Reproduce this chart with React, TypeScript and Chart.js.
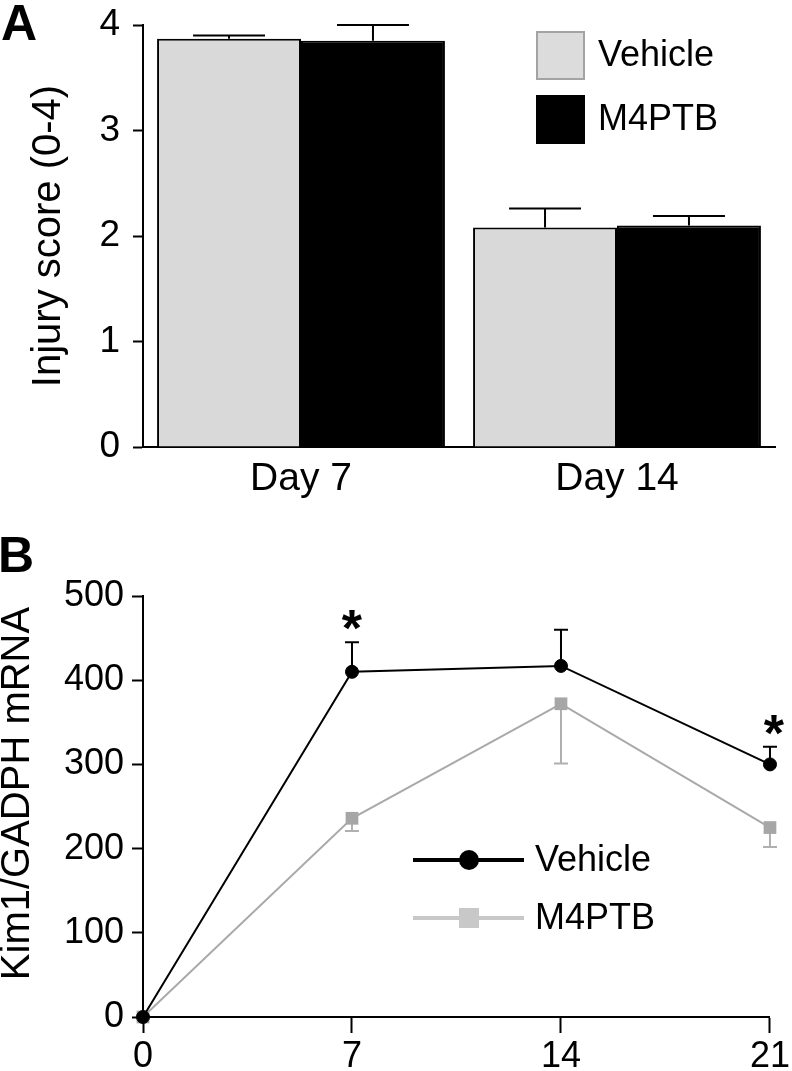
import React, { useEffect, useRef } from 'react';
import { Chart, registerables } from 'chart.js';

Chart.register(...registerables);

const FONT = '"Liberation Sans", Arial, Helvetica, sans-serif';

// ---------- Panel A data ----------
const barCategories = ['Day 7', 'Day 14'];
const barSeriesNames = ['Vehicle', 'M4PTB'];
const vehicleScore = [3.87, 2.08];
const vehicleScoreErr = [0.03, 0.18];
const m4ptbScore = [3.85, 2.1];
const m4ptbScoreErr = [0.15, 0.09];
const scoreTicks = [0, 1, 2, 3, 4];
const scoreTitle = 'Injury score (0-4)';

// ---------- Panel B data ----------
const days = [0, 7, 14, 21];
const lineSeriesNames = ['Vehicle', 'M4PTB'];
const vehicleKim1 = [0, 410, 417, 300];
const vehicleKim1Err = [0, 35, 43, 21];
const m4ptbKim1 = [0, 236, 372, 225];
const m4ptbKim1Err = [0, 15, 71, 23];
const kimTicks = [0, 100, 200, 300, 400, 500];
const dayTicks = [0, 7, 14, 21];
const significantDays = [7, 21];
const kimTitle = 'Kim1/GADPH mRNA';

const errorBarPlugin = {
  id: 'errorBars',
  beforeDatasetsDraw(chart: any) {
    const ctx = chart.ctx;
    const yScale = chart.scales.y;
    chart.data.datasets.forEach((ds: any, di: number) => {
      if (!ds.errors) return;
      const meta = chart.getDatasetMeta(di);
      meta.data.forEach((el: any, i: number) => {
        const e = ds.errors[i];
        if (!e) return;
        const raw = ds.data[i];
        const val = typeof raw === 'number' ? raw : raw.y;
        const end = yScale.getPixelForValue(val + ds.errDir * e);
        const half = ds.capHalf != null ? ds.capHalf : el.width / 4;
        ctx.save();
        ctx.strokeStyle = ds.errColor;
        ctx.lineWidth = 2;
        ctx.beginPath();
        ctx.moveTo(el.x, el.y);
        ctx.lineTo(el.x, end);
        ctx.moveTo(el.x - half, end);
        ctx.lineTo(el.x + half, end);
        ctx.stroke();
        ctx.restore();
      });
    });
  },
};

const yTitlePlugin = {
  id: 'yTitle',
  afterDraw(chart: any, _args: any, opts: any) {
    const { ctx, chartArea } = chart;
    ctx.save();
    ctx.translate(opts.x, (chartArea.top + chartArea.bottom) / 2 + (opts.dy || 0));
    ctx.rotate(-Math.PI / 2);
    ctx.font = `${opts.size}px ${FONT}`;
    ctx.textAlign = 'center';
    ctx.textBaseline = 'middle';
    ctx.fillStyle = '#000';
    ctx.fillText(opts.text, 0, 0);
    ctx.restore();
  },
};

const panelLetterPlugin = {
  id: 'panelLetter',
  afterDraw(chart: any, _args: any, opts: any) {
    const ctx = chart.ctx;
    ctx.save();
    ctx.font = `bold 50px ${FONT}`;
    ctx.fillStyle = '#000';
    ctx.textBaseline = 'alphabetic';
    ctx.textAlign = 'left';
    ctx.fillText(opts.text, opts.x, opts.y);
    ctx.restore();
  },
};

const barLegendPlugin = {
  id: 'barLegend',
  afterDraw(chart: any) {
    const ctx = chart.ctx;
    const x = 537;
    const y0 = 32;
    const box = 47;
    const gap = 64;
    chart.data.datasets.forEach((ds: any, i: number) => {
      const y = y0 + i * gap;
      ctx.save();
      ctx.fillStyle = ds.legendFill;
      ctx.fillRect(x, y, box, box);
      ctx.strokeStyle = ds.legendBorder;
      ctx.lineWidth = 2;
      ctx.strokeRect(x, y, box, box);
      ctx.fillStyle = '#000';
      ctx.font = `36px ${FONT}`;
      ctx.textBaseline = 'middle';
      ctx.textAlign = 'left';
      ctx.fillText(ds.label, x + 61, y + box / 2 + 1);
      ctx.restore();
    });
  },
};

const lineLegendPlugin = {
  id: 'lineLegend',
  afterDraw(chart: any) {
    const ctx = chart.ctx;
    const x1 = 413;
    const x2 = 524;
    const xm = 469;
    const y0 = 330;
    const gap = 58;
    chart.data.datasets.forEach((ds: any, i: number) => {
      const y = y0 + i * gap;
      ctx.save();
      ctx.strokeStyle = ds.legendColor;
      ctx.lineWidth = 4;
      ctx.beginPath();
      ctx.moveTo(x1, y);
      ctx.lineTo(x2, y);
      ctx.stroke();
      ctx.fillStyle = ds.legendColor;
      if (ds.pointStyle === 'circle') {
        ctx.beginPath();
        ctx.arc(xm, y, 10, 0, Math.PI * 2);
        ctx.fill();
      } else {
        ctx.fillRect(xm - 10, y - 10, 20, 20);
      }
      ctx.fillStyle = '#000';
      ctx.font = `36px ${FONT}`;
      ctx.textBaseline = 'middle';
      ctx.textAlign = 'left';
      ctx.fillText(ds.label, 535, y + 1);
      ctx.restore();
    });
  },
};

const starPlugin = {
  id: 'stars',
  afterDatasetsDraw(chart: any) {
    const ctx = chart.ctx;
    const xs = chart.scales.x;
    const ys = chart.scales.y;
    significantDays.forEach((d) => {
      const i = days.indexOf(d);
      const top = ys.getPixelForValue(vehicleKim1[i] + vehicleKim1Err[i]);
      ctx.save();
      ctx.font = `bold 52px ${FONT}`;
      ctx.fillStyle = '#000';
      ctx.textAlign = 'center';
      ctx.textBaseline = 'alphabetic';
      ctx.fillText('*', xs.getPixelForValue(d) + (d === 21 ? 4 : 0), top + 4);
      ctx.restore();
    });
  },
};

function BarPanel() {
  const ref = useRef<HTMLCanvasElement | null>(null);
  useEffect(() => {
    if (!ref.current) return;
    const chart = new Chart(ref.current, {
      type: 'bar',
      data: {
        labels: barCategories,
        datasets: [
          {
            label: barSeriesNames[0],
            data: vehicleScore,
            backgroundColor: '#d9d9d9',
            borderColor: '#000',
            borderWidth: 2,
            errors: vehicleScoreErr,
            errDir: 1,
            errColor: '#000',
            legendFill: '#dcdcdc',
            legendBorder: '#a3a3a3',
          } as any,
          {
            label: barSeriesNames[1],
            data: m4ptbScore,
            backgroundColor: '#000',
            borderColor: '#000',
            borderWidth: 2,
            errors: m4ptbScoreErr,
            errDir: 1,
            errColor: '#000',
            legendFill: '#000',
            legendBorder: '#000',
          } as any,
        ],
      },
      options: {
        responsive: false,
        animation: false,
        devicePixelRatio: 1,
        layout: { padding: { top: 25, right: 17, left: 0, bottom: 0 } },
        datasets: { bar: { categoryPercentage: 0.911, barPercentage: 1 } },
        plugins: {
          legend: { display: false },
          tooltip: { enabled: false },
          yTitle: { text: scoreTitle, x: 49, dy: 0, size: 40 },
          panelLetter: { text: 'A', x: 1, y: 40 },
        } as any,
        scales: {
          x: {
            grid: { display: true, drawOnChartArea: false, drawTicks: false },
            border: { display: true, color: '#000', width: 2 },
            ticks: { color: '#000', font: { family: FONT, size: 39 }, padding: 9 },
            afterFit: (s: any) => {
              s.height = 520 - 447;
            },
          },
          y: {
            min: 0,
            max: 4,
            afterBuildTicks: (s: any) => {
              s.ticks = scoreTicks.map((v) => ({ value: v }));
            },
            grid: {
              drawOnChartArea: false,
              drawTicks: true,
              tickLength: 10,
              tickColor: '#000',
              tickWidth: 2,
            },
            border: { display: true, color: '#000', width: 2 },
            ticks: {
              color: '#000',
              font: { family: FONT, size: 37, lineHeight: 0.3 },
              padding: 13,
            },
            afterFit: (s: any) => {
              s.width = 143;
            },
          },
        },
      },
      plugins: [errorBarPlugin, yTitlePlugin, panelLetterPlugin, barLegendPlugin],
    } as any);
    return () => chart.destroy();
  }, []);
  return (
    <canvas
      ref={ref}
      width={792}
      height={520}
      style={{ position: 'absolute', left: 0, top: 0, width: 792, height: 520 }}
    />
  );
}

function LinePanel() {
  const ref = useRef<HTMLCanvasElement | null>(null);
  useEffect(() => {
    if (!ref.current) return;
    const chart = new Chart(ref.current, {
      type: 'line',
      data: {
        datasets: [
          {
            label: lineSeriesNames[0],
            data: days.map((d, i) => ({ x: d, y: vehicleKim1[i] })),
            borderColor: '#000',
            borderWidth: 2,
            backgroundColor: '#000',
            pointStyle: 'circle',
            pointRadius: 6.5,
            pointBorderWidth: 1,
            pointBorderColor: '#000',
            pointBackgroundColor: '#000',
            clip: false,
            errors: vehicleKim1Err,
            errDir: 1,
            errColor: '#000',
            capHalf: 7,
            legendColor: '#000',
          } as any,
          {
            label: lineSeriesNames[1],
            data: days.map((d, i) => ({ x: d, y: m4ptbKim1[i] })),
            borderColor: '#a9a9a9',
            borderWidth: 2,
            backgroundColor: '#a6a6a6',
            pointStyle: 'rect',
            pointRadius: 9,
            pointBorderWidth: 0,
            pointBackgroundColor: '#a6a6a6',
            clip: false,
            errors: m4ptbKim1Err,
            errDir: -1,
            errColor: '#b0b0b0',
            capHalf: 7,
            legendColor: '#c8c8c8',
          } as any,
        ],
      },
      options: {
        responsive: false,
        animation: false,
        devicePixelRatio: 1,
        layout: { padding: { top: 66, right: 19, left: 0, bottom: 0 } },
        plugins: {
          legend: { display: false },
          tooltip: { enabled: false },
          yTitle: { text: kimTitle, x: 18, dy: -13, size: 40 },
          panelLetter: { text: 'B', x: -2, y: 42 },
        } as any,
        scales: {
          x: {
            type: 'linear',
            min: 0,
            max: 21,
            afterBuildTicks: (s: any) => {
              s.ticks = dayTicks.map((v) => ({ value: v }));
            },
            grid: {
              drawOnChartArea: false,
              drawTicks: true,
              tickLength: 16,
              tickColor: '#000',
              tickWidth: 2,
            },
            border: { display: true, color: '#000', width: 2 },
            ticks: { color: '#000', font: { family: FONT, size: 36 }, padding: 2 },
            afterFit: (s: any) => {
              s.height = 541 - 487;
            },
          },
          y: {
            min: 0,
            max: 500,
            afterBuildTicks: (s: any) => {
              s.ticks = kimTicks.map((v) => ({ value: v }));
            },
            grid: {
              drawOnChartArea: false,
              drawTicks: true,
              tickLength: 11,
              tickColor: '#000',
              tickWidth: 2,
            },
            border: { display: true, color: '#000', width: 2 },
            ticks: { color: '#000', font: { family: FONT, size: 36 }, padding: 8 },
            afterFit: (s: any) => {
              s.width = 143;
            },
          },
        },
      },
      plugins: [errorBarPlugin, yTitlePlugin, panelLetterPlugin, lineLegendPlugin, starPlugin],
    } as any);
    return () => chart.destroy();
  }, []);
  return (
    <canvas
      ref={ref}
      width={792}
      height={541}
      style={{ position: 'absolute', left: 0, top: 530, width: 792, height: 541 }}
    />
  );
}

export default function App() {
  return (
    <div
      style={{
        position: 'absolute',
        left: 0,
        top: 0,
        width: 792,
        height: 1071,
        background: '#fff',
        overflow: 'hidden',
      }}
    >
      <BarPanel />
      <LinePanel />
    </div>
  );
}
